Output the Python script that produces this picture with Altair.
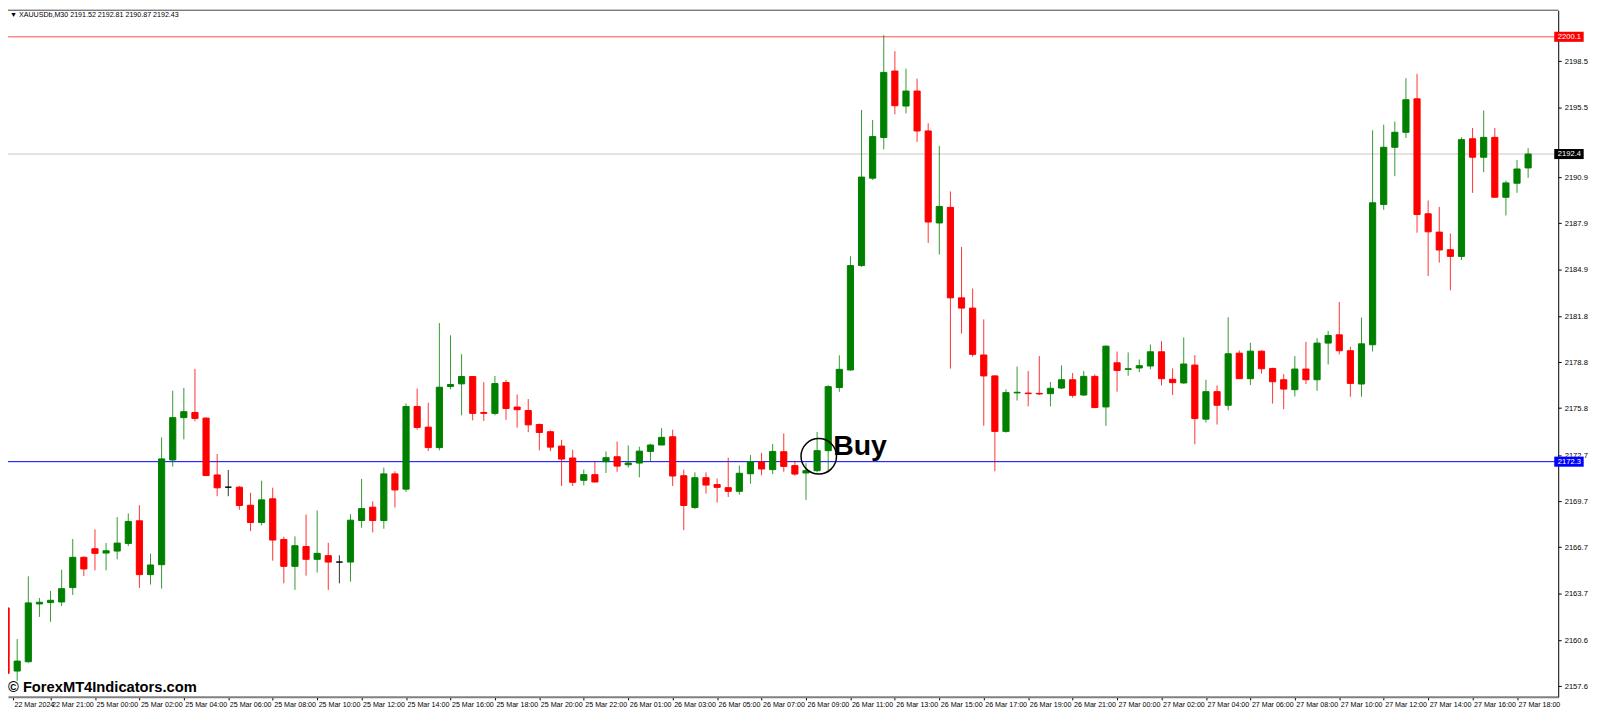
import json
import numpy as np
import pandas as pd
import altair as alt

# XAUUSDb M30 candles (bar 0 = 22 Mar 19:00)
opens = [
    2162.73, 2158.60, 2159.21, 2162.99, 2163.08, 2163.12, 2164.06, 2166.04, 2166.60, 2166.32,
    2166.45, 2166.95, 2168.43, 2164.91, 2165.56, 2172.41, 2175.18, 2175.52, 2175.15, 2171.43,
    2170.63, 2170.63, 2169.45, 2168.32, 2169.87, 2167.21, 2165.45, 2166.75, 2165.91, 2166.15,
    2165.73, 2165.73, 2168.45, 2169.32, 2168.45, 2171.50, 2170.50, 2175.91, 2174.56, 2173.22,
    2177.22, 2177.39, 2177.87, 2175.52, 2175.46, 2177.48, 2175.87, 2175.65, 2174.73, 2174.26,
    2173.32, 2172.54, 2171.08, 2171.45, 2172.30, 2172.62, 2172.10, 2172.21, 2172.97, 2173.39,
    2173.93, 2171.38, 2169.30, 2171.25, 2170.80, 2170.60, 2170.36, 2171.51, 2172.28, 2171.78,
    2172.95, 2172.04, 2171.56, 2171.71, 2173.02, 2177.15, 2178.30, 2185.13, 2190.85, 2193.51,
    2197.86, 2195.57, 2196.55, 2193.94, 2187.92, 2188.94, 2183.02, 2182.35, 2179.28, 2177.91,
    2174.28, 2176.80, 2176.79, 2176.77, 2176.75, 2177.12, 2177.66, 2176.66, 2177.88, 2175.88,
    2178.77, 2178.34, 2178.43, 2178.56, 2179.49, 2177.69, 2177.45, 2178.62, 2175.08, 2176.88,
    2175.99, 2179.40, 2177.73, 2179.53, 2178.40, 2177.66, 2177.01, 2178.36, 2177.66, 2180.06,
    2180.60, 2179.56, 2177.38, 2179.95, 2189.13, 2192.87, 2193.85, 2196.04, 2188.52, 2187.32,
    2186.17, 2185.73, 2193.43, 2192.22, 2193.52, 2189.60, 2190.52, 2191.52,
]
highs = [
    2164.97, 2160.69, 2164.80, 2163.38, 2163.84, 2165.23, 2167.24, 2166.10, 2167.87, 2166.97,
    2168.67, 2168.91, 2169.45, 2166.28, 2173.89, 2176.94, 2177.13, 2178.37, 2175.20, 2172.80,
    2171.76, 2170.70, 2170.26, 2171.06, 2170.60, 2167.39, 2167.41, 2168.84, 2169.10, 2166.99,
    2166.17, 2168.86, 2171.17, 2169.71, 2171.91, 2171.67, 2176.11, 2177.09, 2176.15, 2181.37,
    2180.57, 2179.33, 2177.90, 2177.50, 2177.91, 2177.65, 2176.70, 2176.40, 2174.80, 2174.34,
    2173.73, 2173.08, 2171.78, 2172.28, 2172.97, 2173.62, 2173.36, 2173.28, 2173.47, 2174.49,
    2174.39, 2171.78, 2171.60, 2171.60, 2171.19, 2172.56, 2172.04, 2172.73, 2172.88, 2173.45,
    2174.15, 2172.36, 2172.20, 2174.25, 2177.30, 2179.26, 2185.74, 2195.31, 2194.66, 2200.20,
    2199.16, 2198.01, 2197.36, 2194.44, 2192.96, 2189.98, 2186.35, 2183.63, 2181.61, 2177.95,
    2177.04, 2178.52, 2178.23, 2179.21, 2177.51, 2178.60, 2178.10, 2178.23, 2178.01, 2179.90,
    2179.51, 2179.45, 2178.99, 2179.97, 2180.19, 2178.40, 2180.43, 2179.27, 2177.66, 2177.29,
    2181.75, 2179.58, 2180.08, 2179.58, 2178.45, 2178.03, 2179.21, 2180.14, 2180.38, 2180.86,
    2182.75, 2179.82, 2181.73, 2193.98, 2194.35, 2194.56, 2197.39, 2197.68, 2189.39, 2188.97,
    2187.23, 2193.52, 2194.13, 2195.28, 2194.13, 2190.69, 2192.04, 2192.81,
]
lows = [
    2157.14, 2157.95, 2159.14, 2162.14, 2161.82, 2162.86, 2163.58, 2164.82, 2165.19, 2165.19,
    2165.91, 2166.78, 2164.04, 2164.26, 2163.99, 2171.98, 2173.76, 2174.94, 2171.35, 2170.04,
    2170.04, 2169.15, 2167.76, 2168.13, 2165.82, 2164.34, 2163.91, 2164.84, 2165.04, 2163.91,
    2164.34, 2164.45, 2167.97, 2167.67, 2167.91, 2169.30, 2170.32, 2174.39, 2173.00, 2173.04,
    2177.04, 2175.33, 2175.00, 2174.96, 2175.33, 2175.04, 2174.52, 2174.23, 2173.04, 2172.99,
    2170.71, 2170.71, 2170.75, 2170.95, 2171.56, 2171.64, 2171.91, 2171.28, 2172.30, 2173.39,
    2170.71, 2167.82, 2169.20, 2170.21, 2169.62, 2169.99, 2170.14, 2170.86, 2171.41, 2171.49,
    2171.64, 2171.38, 2169.80, 2171.60, 2171.60, 2176.87, 2178.25, 2185.05, 2190.74, 2192.74,
    2195.03, 2195.09, 2193.22, 2186.61, 2185.85, 2178.39, 2180.69, 2179.17, 2174.65, 2171.67,
    2174.20, 2176.30, 2175.92, 2176.66, 2175.92, 2177.05, 2176.49, 2176.60, 2175.80, 2174.64,
    2176.88, 2177.92, 2178.16, 2178.34, 2177.29, 2176.66, 2177.40, 2173.44, 2174.86, 2174.73,
    2175.66, 2177.70, 2177.32, 2178.06, 2176.10, 2175.73, 2176.57, 2177.38, 2176.94, 2178.66,
    2179.32, 2176.55, 2176.55, 2179.51, 2188.78, 2190.98, 2193.48, 2187.28, 2184.45, 2185.32,
    2183.51, 2185.49, 2189.89, 2191.24, 2189.60, 2188.41, 2189.89, 2190.87,
]
closes = [
    2158.45, 2159.25, 2163.06, 2163.10, 2163.23, 2163.99, 2166.04, 2165.28, 2166.30, 2166.47,
    2166.97, 2168.39, 2164.91, 2165.54, 2172.48, 2175.18, 2175.57, 2175.13, 2171.39, 2170.59,
    2170.63, 2169.43, 2168.32, 2169.80, 2167.17, 2165.45, 2166.80, 2165.91, 2166.30, 2165.73,
    2165.73, 2168.47, 2169.23, 2168.45, 2171.50, 2170.45, 2175.91, 2174.54, 2173.22, 2177.17,
    2177.35, 2177.87, 2175.46, 2175.46, 2177.41, 2175.78, 2175.70, 2174.71, 2174.21, 2173.25,
    2172.47, 2170.95, 2171.45, 2170.97, 2172.56, 2172.01, 2172.21, 2172.99, 2173.39, 2173.89,
    2171.36, 2169.43, 2171.25, 2170.77, 2170.62, 2170.36, 2171.54, 2172.30, 2171.82, 2172.97,
    2171.99, 2171.49, 2171.71, 2173.02, 2177.21, 2178.34, 2185.13, 2190.92, 2193.57, 2197.77,
    2195.59, 2196.55, 2193.94, 2187.98, 2189.00, 2183.02, 2182.35, 2179.32, 2177.91, 2174.28,
    2176.82, 2176.84, 2176.75, 2176.73, 2177.10, 2177.66, 2176.64, 2177.88, 2175.84, 2179.86,
    2178.27, 2178.38, 2178.58, 2179.49, 2177.73, 2177.47, 2178.69, 2175.12, 2176.88, 2175.99,
    2179.36, 2177.73, 2179.53, 2178.38, 2177.53, 2177.05, 2178.36, 2177.66, 2180.06, 2180.56,
    2179.56, 2177.42, 2180.01, 2189.24, 2192.87, 2193.85, 2195.98, 2188.47, 2187.34, 2186.15,
    2185.73, 2193.37, 2192.22, 2193.52, 2189.60, 2190.54, 2191.45, 2192.43,
]

# one label every 4 bars
time_labels = [
    "22 Mar 2024", "22 Mar 21:00", "25 Mar 00:00", "25 Mar 02:00", "25 Mar 04:00",
    "25 Mar 06:00", "25 Mar 08:00", "25 Mar 10:00", "25 Mar 12:00", "25 Mar 14:00",
    "25 Mar 16:00", "25 Mar 18:00", "25 Mar 20:00", "25 Mar 22:00", "26 Mar 01:00",
    "26 Mar 03:00", "26 Mar 05:00", "26 Mar 07:00", "26 Mar 09:00", "26 Mar 11:00",
    "26 Mar 13:00", "26 Mar 15:00", "26 Mar 17:00", "26 Mar 19:00", "26 Mar 21:00",
    "27 Mar 00:00", "27 Mar 02:00", "27 Mar 04:00", "27 Mar 06:00", "27 Mar 08:00",
    "27 Mar 10:00", "27 Mar 12:00", "27 Mar 14:00", "27 Mar 16:00", "27 Mar 18:00",
]
price_labels = [
    "2201.5", "2198.5", "2197.0", "2195.5", "2193.9", "2190.9", "2189.4", "2187.9",
    "2186.4", "2184.9", "2183.3", "2181.8", "2180.3", "2178.8", "2177.3", "2175.8",
    "2174.3", "2172.7", "2171.2", "2169.7", "2168.2", "2166.7", "2165.2", "2163.7",
    "2162.1", "2160.6", "2159.1", "2157.6", "2156.1",
]

# horizontal lines: red level, bid line, blue level
line_prices = [2200.1, 2192.43, 2172.3]
line_tags = ["2200.1", "2192.4", "2172.3"]
line_colors = ["#ff4d4d", "#c8c8c8", "#0000ff"]
tag_colors = ["#ff0000", "#000000", "#0000ff"]

header_text = "▼ XAUUSDb,M30  2191.52 2192.81 2190.87 2192.43"
watermark_text = "© ForexMT4Indicators.com"
buy_bar = [73.15]
buy_price = [2172.65]
buy_text_bar = [74.45]
buy_text_price = [2172.72]

FONT = "Liberation Sans"
X_START = 0.62  # bar position at the left edge of the plot
Y_LOW, Y_HIGH = 2156.91, 2201.84

candles = pd.DataFrame({"bar": range(len(opens)), "open": opens, "high": highs,
                        "low": lows, "close": closes})
candles["side"] = np.where(candles["close"] > candles["open"], "up",
                           np.where(candles["close"] < candles["open"], "down", "flat"))

side_scale = alt.Scale(domain=["up", "down", "flat"], range=["#008000", "#ff0000", "#000000"])
x_scale = alt.Scale(domain=[X_START, 139.26], nice=False, zero=False)
y_scale = alt.Scale(domain=[Y_LOW, Y_HIGH], nice=False, zero=False)

tick_bars = [max(4 * k, X_START) for k in range(len(time_labels))]
x_axis = alt.Axis(
    values=tick_bars,
    labelExpr=json.dumps(time_labels) + "[round(datum.value / 4)]",
    labelAlign="left", labelBaseline="top", labelPadding=1, labelOffset=1,
    labelOverlap=False, labelFlush=False, labelBound=False,
    tickSize=3, tickColor="#000000", domainColor="#808080", domainWidth=2,
    grid=False, title=None,
)
y_axis = alt.Axis(
    orient="right", values=[float(v) for v in price_labels if float(v) >= Y_LOW],
    format=".1f",
    labelPadding=3, labelOverlap=False, labelFlush=False, labelBound=False,
    tickSize=3, tickColor="#000000", domainColor="#000000",
    grid=False, title=None,
)

wicks = alt.Chart(candles).mark_rule(strokeWidth=1, opacity=0.8, clip=True).encode(
    x=alt.X("bar:Q", scale=x_scale, axis=x_axis),
    y=alt.Y("low:Q", scale=y_scale, axis=y_axis),
    y2="high:Q",
    color=alt.Color("side:N", scale=side_scale, legend=None),
)

bodies = alt.Chart(candles).mark_bar(size=6.2, strokeWidth=1, clip=True).encode(
    x=alt.X("bar:Q", scale=x_scale, title=None),
    y=alt.Y("open:Q", scale=y_scale, title=None),
    y2="close:Q",
    color=alt.Color("side:N", scale=side_scale, legend=None),
    stroke=alt.Stroke("side:N", scale=side_scale, legend=None),
)

lines_df = pd.DataFrame({"price": line_prices, "tag": line_tags,
                         "line": line_colors, "box": tag_colors})
lines_df["top"] = lines_df["price"] + 0.33
lines_df["bottom"] = lines_df["price"] - 0.33
lines_df["x0"] = 139.35
lines_df["x1"] = 142.0
lines_df["xt"] = 139.67

level_lines = alt.Chart(lines_df).mark_rule(strokeWidth=1).encode(
    y=alt.Y("price:Q", scale=y_scale, title=None),
    color=alt.Color("line:N", scale=None),
)
tag_boxes = alt.Chart(lines_df).mark_rect().encode(
    x=alt.X("x0:Q", scale=x_scale, title=None), x2="x1:Q",
    y=alt.Y("top:Q", scale=y_scale, title=None), y2="bottom:Q",
    color=alt.Color("box:N", scale=None),
)
tag_texts = alt.Chart(lines_df).mark_text(
    align="left", baseline="middle", font=FONT, fontSize=7.65, color="#ffffff"
).encode(
    x=alt.X("xt:Q", scale=x_scale, title=None),
    y=alt.Y("price:Q", scale=y_scale, title=None),
    text="tag:N",
)

# top frame line of the chart window
top_frame = alt.Chart(pd.DataFrame({"edge": [0]})).mark_rule(
    strokeWidth=1, color="#444444"
).encode(y=alt.value(0))

buy_df = pd.DataFrame({"bar": buy_bar, "price": buy_price,
                       "tbar": buy_text_bar, "tprice": buy_text_price, "label": ["Buy"]})
buy_circle = alt.Chart(buy_df).mark_point(
    shape="circle", filled=False, size=1275, strokeWidth=1.5, color="#000000", opacity=1
).encode(x=alt.X("bar:Q", scale=x_scale, title=None),
         y=alt.Y("price:Q", scale=y_scale, title=None))
buy_label = alt.Chart(buy_df).mark_text(
    align="left", baseline="alphabetic", font=FONT, fontSize=28.6, fontWeight="bold", color="#000000"
).encode(x=alt.X("tbar:Q", scale=x_scale, title=None),
         y=alt.Y("tprice:Q", scale=y_scale, title=None), text="label:N")

header = alt.Chart(pd.DataFrame({"t": [header_text]})).mark_text(
    align="left", baseline="top", font=FONT, fontSize=7.15, color="#000000"
).encode(x=alt.value(2), y=alt.value(1), text="t:N")

watermark = alt.Chart(pd.DataFrame({"t": [watermark_text]})).mark_text(
    align="left", baseline="middle", font=FONT, fontSize=14.8, fontWeight="bold", color="#000000"
).encode(x=alt.value(0), y=alt.value(682), text="t:N")

chart = alt.layer(
    level_lines, top_frame, wicks, bodies, tag_boxes, tag_texts, buy_circle, buy_label,
    header, watermark
).properties(
    width=1560, height=691,
    autosize=alt.AutoSizeParams(type="none"),
    padding={"left": 0, "top": 0, "right": 34, "bottom": 12},
    background="#ffffff",
).configure_view(
    strokeWidth=0
).configure_axis(
    labelFont=FONT, labelFontSize=7.65, labelColor="#000000", labelOverlap=False
).configure_axisX(
    labelFontSize=7.15
)

chart.save("out.html", embed_options={"renderer": "svg", "actions": False})
